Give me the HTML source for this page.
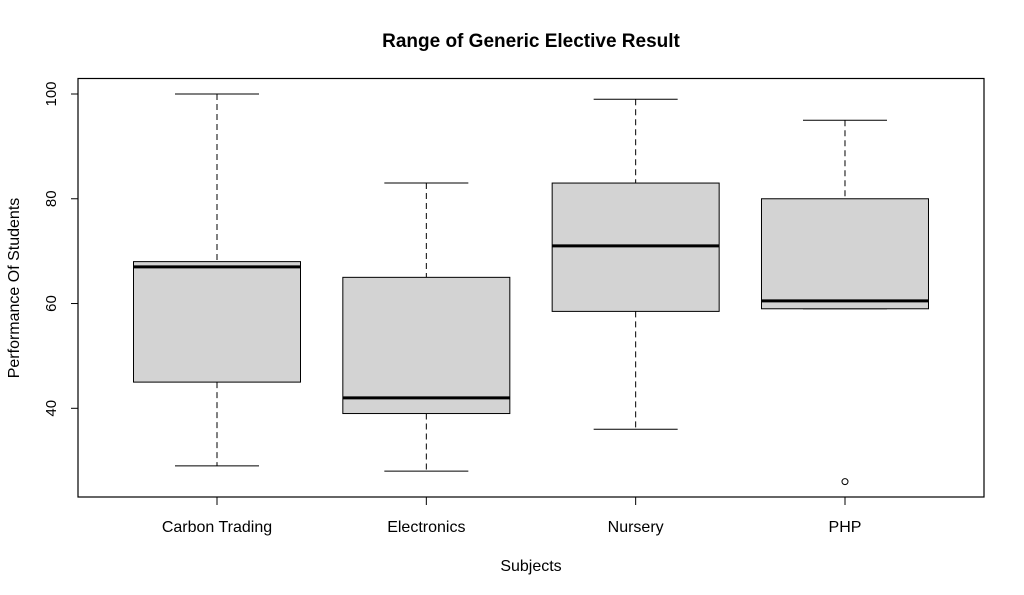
<!DOCTYPE html>
<html><head><meta charset="utf-8"><style>
body{margin:0;background:#fff}
svg{display:block;font-family:"Liberation Sans",Arial,sans-serif}
</style></head><body>
<svg id="chart" width="1024" height="595" viewBox="0 0 1024 595">
<rect width="1024" height="595" fill="#fff"/>
<text x="531" y="47" text-anchor="middle" font-size="19" font-weight="bold">Range of Generic Elective Result</text>
<rect x="78" y="78.5" width="906" height="418.5" fill="none" stroke="#000" stroke-width="1.2"/>
<text x="531" y="571" text-anchor="middle" font-size="16">Subjects</text>
<text transform="translate(19,288) rotate(-90)" text-anchor="middle" font-size="16">Performance Of Students</text>
<g id="marks"></g>
</svg>
<script>
const categories = ["Carbon Trading","Electronics","Nursery","PHP"];
const whiskerLow = [29, 28, 36, 59];
const q1 = [45, 39, 58.5, 59];
const medians = [67, 42, 71, 60.5];
const q3 = [68, 65, 83, 80];
const whiskerHigh = [100, 83, 99, 95];
const outliers = [[], [], [], [26]];
const yTicks = [40, 60, 80, 100];

const NS = "http://www.w3.org/2000/svg";
const g = document.getElementById("marks");
function y(v){ return 94 + (100 - v) * (314.3 / 60); }
function x(i){ return 217 + 209.33 * i; }
function el(tag, attrs){ const e = document.createElementNS(NS, tag); for (const k in attrs) e.setAttribute(k, attrs[k]); g.appendChild(e); return e; }

yTicks.forEach(function(t){
  const tk = el("line", {x1:71, x2:78, y1:y(t), y2:y(t), stroke:"#000", "stroke-width":1});
  
  
  const lb = el("text", {transform:"translate(56," + y(t) + ") rotate(-90)", "text-anchor":"middle", "font-size":15});
  lb.textContent = t;
  
  
});

categories.forEach(function(c, i){
  const cx = x(i), bw = 83.5, cw = 42;
  const w1 = el("line", {x1:cx, x2:cx, y1:y(whiskerHigh[i]), y2:y(q3[i]), stroke:"#000", "stroke-dasharray":"6,4"});
  
  
  const w2 = el("line", {x1:cx, x2:cx, y1:y(q1[i]), y2:y(whiskerLow[i]), stroke:"#000", "stroke-dasharray":"6,4"});
  
  
  const c1 = el("line", {x1:cx-cw, x2:cx+cw, y1:y(whiskerHigh[i]), y2:y(whiskerHigh[i]), stroke:"#000"});
  
  
  const c2 = el("line", {x1:cx-cw, x2:cx+cw, y1:y(whiskerLow[i]), y2:y(whiskerLow[i]), stroke:"#000"});
  
  
  const b = el("rect", {x:cx-bw, y:y(q3[i]), width:bw*2, height:y(q1[i])-y(q3[i]), fill:"#d3d3d3", stroke:"#000", "stroke-width":1});
  
  
  const m = el("line", {x1:cx-bw, x2:cx+bw, y1:y(medians[i]), y2:y(medians[i]), stroke:"#000", "stroke-width":3});
  
  
  outliers[i].forEach(function(o){
    const p = el("circle", {cx:cx, cy:y(o), r:3, fill:"none", stroke:"#000"});
    
    
  });
  const tk = el("line", {x1:cx, x2:cx, y1:497, y2:505, stroke:"#000"});
  
  
  const lb = el("text", {x:cx, y:532, "text-anchor":"middle", "font-size":16});
  lb.textContent = c;
  
  
});
</script>
</body></html>
